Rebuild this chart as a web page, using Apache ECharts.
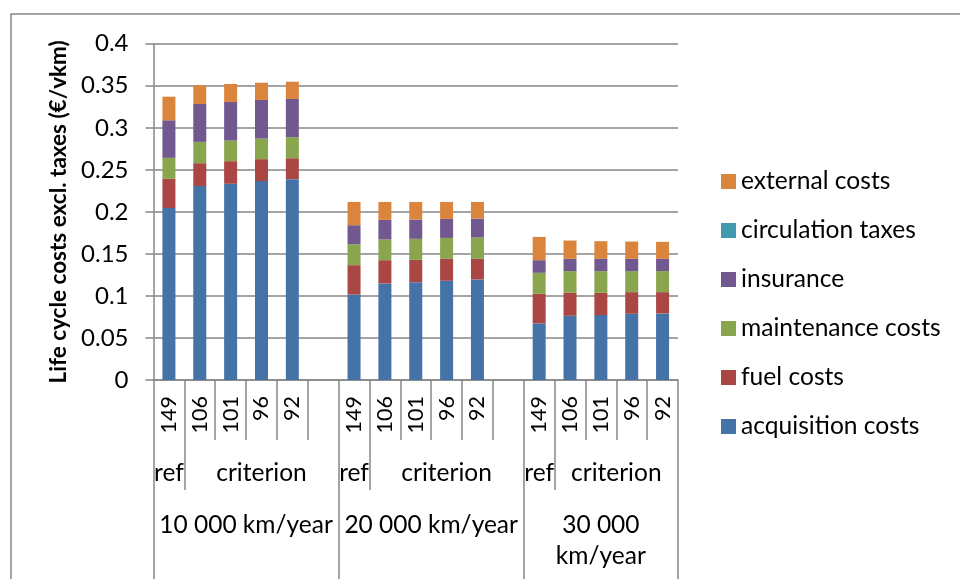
<!DOCTYPE html>
<html>
<head>
<meta charset="utf-8">
<script src="https://cdn.jsdelivr.net/npm/echarts@6/dist/echarts.min.js"></script>
<style>
  html, body { margin: 0; padding: 0; background: #fff; }
  #chart { width: 960px; height: 579px; }
</style>
</head>
<body>
<div id="chart"></div>
<script>
// Vehicle labels per mileage group (CO2 threshold, g/km)
const vehicleLabels = ['149', '106', '101', '96', '92'];
const groupNames = ['10 000 km/year', '20 000 km/year', '30 000\nkm/year'];
const subGroupRef = 'ref';
const subGroupCriterion = 'criterion';
const yTicks = [0, 0.05, 0.1, 0.15, 0.2, 0.25, 0.3, 0.35, 0.4];

// Cost components in €/vkm, five vehicles per group, three groups
const acquisitionCosts = [0.2045, 0.2306, 0.2334, 0.2366, 0.2389,
                          0.1017, 0.1148, 0.1164, 0.1180, 0.1196,
                          0.0673, 0.0764, 0.0772, 0.0788, 0.0792];
const fuelCosts        = [0.0348, 0.0273, 0.0269, 0.0261, 0.0249,
                          0.0349, 0.0277, 0.0265, 0.0261, 0.0245,
                          0.0352, 0.0273, 0.0265, 0.0257, 0.0253];
const maintenanceCosts = [0.0249, 0.0253, 0.0245, 0.0245, 0.0250,
                          0.0249, 0.0246, 0.0250, 0.0249, 0.0253,
                          0.0250, 0.0258, 0.0258, 0.0250, 0.0250];
const insuranceCosts   = [0.0447, 0.0451, 0.0459, 0.0459, 0.0455,
                          0.0226, 0.0233, 0.0229, 0.0226, 0.0226,
                          0.0150, 0.0146, 0.0146, 0.0146, 0.0146];
const circulationTaxes = [0, 0, 0, 0, 0,
                          0, 0, 0, 0, 0,
                          0, 0, 0, 0, 0];
const externalCosts    = [0.0281, 0.0222, 0.0214, 0.0205, 0.0205,
                          0.0277, 0.0214, 0.0210, 0.0202, 0.0198,
                          0.0277, 0.0218, 0.0210, 0.0206, 0.0202];

const seriesNames = ['acquisition costs', 'fuel costs', 'maintenance costs',
                     'insurance', 'circulation taxes', 'external costs'];
const seriesValues = [acquisitionCosts, fuelCosts, maintenanceCosts,
                      insuranceCosts, circulationTaxes, externalCosts];
const seriesColors = ['#4572A7', '#AA4643', '#89A54E', '#71588F', '#4198AF', '#DB843D'];

const GROUPS = 3, PER_GROUP = vehicleLabels.length;

// Category slots: each group is followed by an empty spacer slot (except the last)
const categories = [];
for (let g = 0; g < GROUPS; g++) {
  vehicleLabels.forEach(v => categories.push(v));
  if (g < GROUPS - 1) categories.push('');
}
function withGaps(values) {
  const out = [];
  for (let g = 0; g < GROUPS; g++) {
    for (let i = 0; i < PER_GROUP; i++) out.push(values[g * PER_GROUP + i]);
    if (g < GROUPS - 1) out.push(null);
  }
  return out;
}

// Half-slot helper axes (boundaryGap off) carry the lower label levels and separators
const nSlots = categories.length;              // 17
const halfCats = [];
for (let k = 0; k <= nSlots * 2; k++) halfCats.push(String(k));
const groupStarts = [0, PER_GROUP + 1, 2 * (PER_GROUP + 1)];  // slot index of each group's start
const groupEnds = [PER_GROUP + 1, 2 * (PER_GROUP + 1), nSlots];

const level2Labels = {}, level2Ticks = new Set();
const level3Labels = {}, level3Ticks = new Set([0]);
groupStarts.forEach((s, g) => {
  level2Labels[2 * s + 1] = subGroupRef;
  // criterion spans from slot s+1 up to the group end
  level2Labels[(s + 1) + groupEnds[g]] = subGroupCriterion;
  level2Ticks.add(2 * (s + 1));
  level3Labels[s + groupEnds[g]] = groupNames[g];
  level3Ticks.add(2 * groupEnds[g]);
});

const FONT = 'Lato';
const GRAY = '#868686';

const chart = echarts.init(document.getElementById('chart'), null, { renderer: 'canvas' });
chart.setOption({
  animation: false,
  backgroundColor: '#fff',
  textStyle: { fontFamily: FONT },
  graphic: [{
    type: 'rect', silent: true, z: -1,
    shape: { x: 11, y: 14, width: 1000, height: 700 },
    style: { fill: 'none', stroke: GRAY, lineWidth: 1.5 }
  }],
  grid: { left: 153.5, right: 282, top: 43.7, bottom: 199, containLabel: false },
  legend: {
    orient: 'vertical',
    left: 716, top: 164,
    itemWidth: 15, itemHeight: 15, itemGap: 24,
    icon: 'rect',
    data: seriesNames.slice().reverse(),
    textStyle: { fontFamily: FONT, fontSize: 24.6, color: '#000', lineHeight: 24 }
  },
  yAxis: {
    type: 'value', min: 0, max: 0.4, interval: 0.05,
    name: 'Life cycle costs excl. taxes (€/vkm)',
    nameLocation: 'middle', nameGap: 78, nameRotate: 90,
    nameTextStyle: { fontFamily: FONT, fontSize: 22.5, fontWeight: 'bold', color: '#000' },
    axisLine: { show: true, lineStyle: { color: GRAY, width: 1.5 } },
    axisTick: { show: true, inside: false, length: 8, lineStyle: { color: GRAY, width: 1.5 } },
    axisLabel: {
      margin: 25, fontSize: 24, color: '#000', fontFamily: FONT,
      formatter: v => {
        const t = yTicks.find(y => Math.abs(y - v) < 1e-9);
        return t === undefined ? '' : String(t);
      }
    },
    splitLine: { show: true, lineStyle: { color: GRAY, width: 1.5 } }
  },
  xAxis: [
    {
      type: 'category', data: categories, position: 'bottom', boundaryGap: true,
      axisLine: { show: true, onZero: false, lineStyle: { color: GRAY, width: 1.5 } },
      axisTick: { show: true, alignWithLabel: false, interval: 0, length: 60,
                  lineStyle: { color: GRAY, width: 1.5 } },
      axisLabel: { interval: 0, rotate: 90, margin: 16, fontSize: 21.5, color: '#000', fontFamily: FONT },
      splitLine: { show: false }
    },
    {
      type: 'category', data: halfCats, position: 'bottom', boundaryGap: false,
      axisLine: { show: false, onZero: false },
      axisTick: { show: true, length: 110, interval: (i) => level2Ticks.has(i),
                  lineStyle: { color: GRAY, width: 1.5 } },
      axisLabel: { interval: 0, margin: 81, fontSize: 24.5, color: '#000', fontFamily: FONT,
                   formatter: (v, i) => level2Labels[i] || '' },
      splitLine: { show: false }
    },
    {
      type: 'category', data: halfCats, position: 'bottom', boundaryGap: false,
      axisLine: { show: false, onZero: false },
      axisTick: { show: true, length: 260, interval: (i) => level3Ticks.has(i),
                  lineStyle: { color: GRAY, width: 1.5 } },
      axisLabel: { interval: 0, margin: 130, fontSize: 24.5, lineHeight: 31, color: '#000', fontFamily: FONT,
                   formatter: (v, i) => level3Labels[i] || '' },
      splitLine: { show: false }
    }
  ],
  series: seriesNames.map((name, i) => ({
    name, type: 'bar', stack: 'total', xAxisIndex: 0,
    barWidth: 13,
    itemStyle: { color: seriesColors[i] },
    data: withGaps(seriesValues[i])
  }))
});
</script>
</body>
</html>
